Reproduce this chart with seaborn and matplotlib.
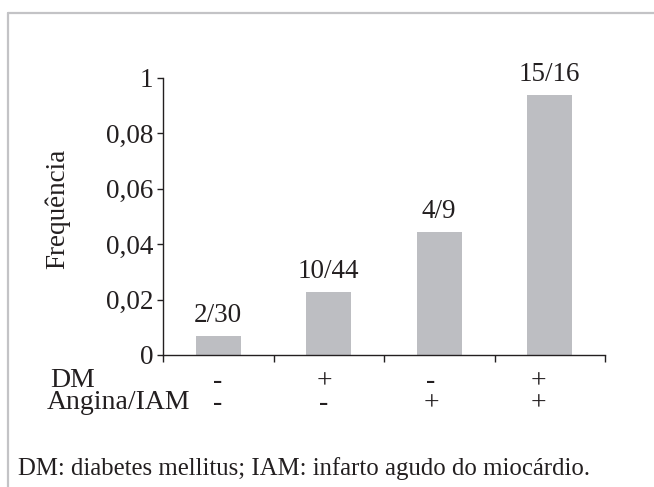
import numpy as np
import pandas as pd
import matplotlib
matplotlib.use("Agg")
import matplotlib.pyplot as plt
from matplotlib.lines import Line2D
import seaborn as sns

# ---- data ----
categories = ["g1", "g2", "g3", "g4"]
frequencies = [0.0067, 0.0227, 0.0444, 0.0938]
bar_labels = ["2/30", "10/44", "4/9", "15/16"]
dm_signs = ["-", "+", "-", "+"]
angina_signs = ["-", "-", "+", "+"]
ytick_values = [0, 0.02, 0.04, 0.06, 0.08, 0.10]
ytick_labels = ["0", "0,02", "0,04", "0,06", "0,08", "1"]
ylabel = "Frequência"
row_labels = ["DM", "Angina/IAM"]
caption = "DM: diabetes mellitus; IAM: infarto agudo do miocárdio."

sns.set_style("white")
plt.rcParams["font.family"] = ["Liberation Serif", "DejaVu Serif"]

W, H = 654, 487
fig = plt.figure(figsize=(W / 100, H / 100), dpi=100)
ax = fig.add_axes([163 / W, 1 - 355 / H, (605 - 163) / W, (355 - 78) / H])

df = pd.DataFrame({"cat": categories, "freq": frequencies})
sns.barplot(data=df, x="cat", y="freq", color="#bdbec2", width=0.41,
            saturation=1, ax=ax, edgecolor="none")

ax.set_xlim(-0.5, 3.5)
ax.set_ylim(0, 0.10)
ax.set_yticks(ytick_values, ytick_labels)
ax.set_xticks(np.arange(-0.5, 4.0, 1.0))
ax.set_xticklabels([])
ax.set_xlabel("")
ax.set_ylabel(ylabel, fontsize=19.5, color="#231f20")
ax.yaxis.label.set_va("center")
ax.yaxis.set_label_coords((58 - 163) / 442, (355 - 209) / 277)

for s in ["top", "right"]:
    ax.spines[s].set_visible(False)
for s in ["left", "bottom"]:
    ax.spines[s].set_color("#231f20")
    ax.spines[s].set_linewidth(1.0)
ax.tick_params(axis="y", direction="out", length=4.5, width=1.0,
               color="#231f20", labelsize=19.5, labelcolor="#231f20", pad=2.5, left=True)
ax.tick_params(axis="x", direction="out", length=5, width=1.0,
               color="#231f20", bottom=True)
ax.grid(False)

for cont in ax.containers:
    ax.bar_label(cont, labels=bar_labels, padding=6, fontsize=19.5, color="#231f20")

# sign rows under the axis
trans = ax.get_xaxis_transform()
for i in range(len(categories)):
    xpos = i * 0.968 - 0.01
    ax.text(xpos, (355 - 388) / 277, dm_signs[i], transform=trans, ha="center",
            va="baseline", fontsize=20, color="#231f20", clip_on=False)
    ax.text(xpos, (355 - 410) / 277, angina_signs[i], transform=trans, ha="center",
            va="baseline", fontsize=20, color="#231f20", clip_on=False)

fig.text(50 / W, 1 - 387 / H, row_labels[0], ha="left", va="baseline",
         fontsize=20, color="#231f20")
fig.text(47 / W, 1 - 409 / H, row_labels[1], ha="left", va="baseline",
         fontsize=20, color="#231f20")

fig.text(18 / W, 1 - 475 / H, caption, ha="left", va="baseline",
         fontsize=17.8, color="#231f20")

# frame lines (top and left)
frame_col = "#c3c3c6"
fig.add_artist(Line2D([8 / W, 1.0], [1 - 13 / H, 1 - 13 / H], color=frame_col,
                      linewidth=1.6, transform=fig.transFigure))
fig.add_artist(Line2D([8 / W, 8 / W], [0.0, 1 - 13 / H], color=frame_col,
                      linewidth=1.6, transform=fig.transFigure))

fig.savefig("out.png", dpi=100)
